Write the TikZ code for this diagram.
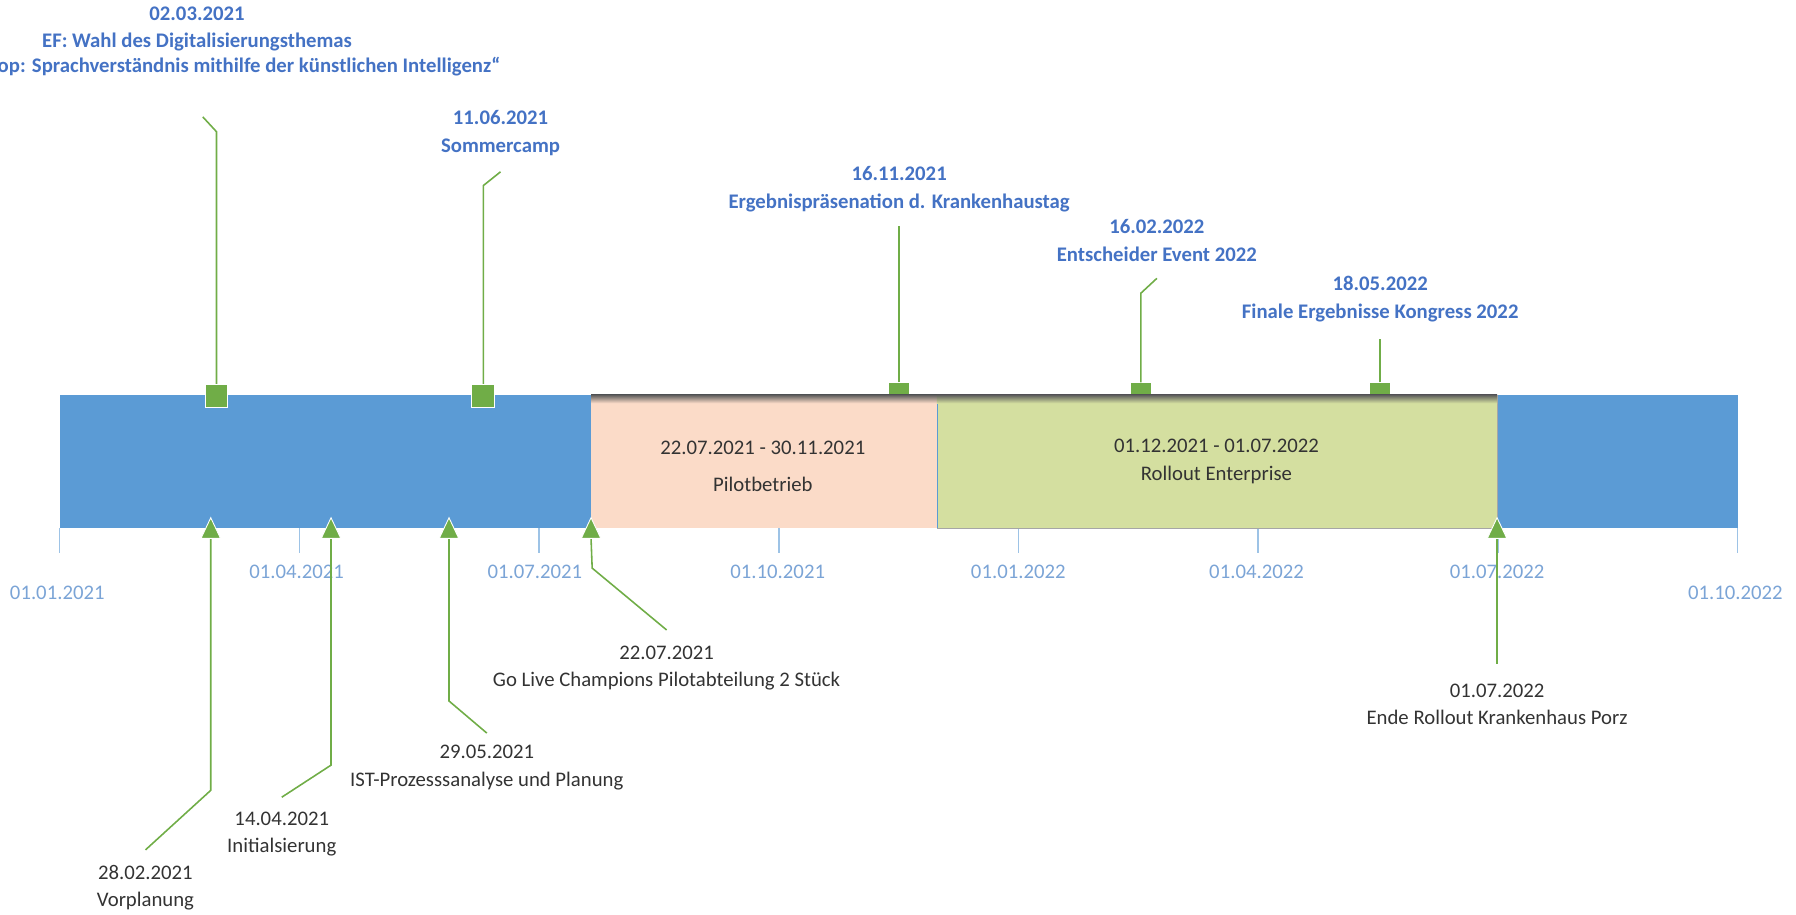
\documentclass[tikz,border=0pt]{standalone}
\usepackage{fontspec}
\setmainfont{Carlito}
\definecolor{barblue}{HTML}{5B9BD5}
\definecolor{mgreen}{HTML}{70AD47}
\definecolor{pinkc}{HTML}{FBDBC8}
\definecolor{lgreenc}{HTML}{D4DFA0}
\definecolor{labblue}{HTML}{4472C4}
\definecolor{axisblue}{HTML}{7BA4D6}
\definecolor{tickblue}{HTML}{9DC3E6}
\begin{document}
\begin{tikzpicture}[x=0.022908cm,y=-0.022908cm,
  tickln/.style={draw=tickblue,line width=0.9pt},
  axlab/.style={text=axisblue,font=\fontsize{11.8}{14}\selectfont,inner sep=0pt},
  toplab/.style={text=labblue,font=\bfseries\fontsize{11.8}{15.6}\selectfont,align=center,inner sep=0pt},
  botlab/.style={text=black!80,font=\fontsize{11.8}{15.6}\selectfont,align=center,inner sep=0pt},
  boxlab/.style={text=black!80,font=\fontsize{11.8}{14}\selectfont,inner sep=0pt},
  conn/.style={draw=mgreen,line width=0.9pt},
  sqm/.style={rectangle,fill=mgreen,draw=white,line width=0.6pt,minimum size=0.458cm,inner sep=0pt},
  sqs/.style={rectangle,fill=mgreen,minimum width=0.41cm,minimum height=0.41cm,inner sep=0pt},
  trim/.style={fill=mgreen,draw=white,line width=0.5pt}]
\useasboundingbox (0,0) rectangle (1568,798);
\clip (0,0) rectangle (1568,798);

% bar
\fill[barblue] (52,345) rectangle (1517,461);

% ticks
\foreach \k/\xx in {0/52,1/261.3,2/470.6,3/679.9,4/889.2,5/1098.5,6/1307.8,7/1517} {
  \draw[tickln] (\xx,461) -- (\xx,483);
}
\node[axlab] (a0) at (50,518) {01.01.2021};
\node[axlab] (a1) at (259,499) {01.04.2021};
\node[axlab] (a2) at (467,499) {01.07.2021};
\node[axlab] (a3) at (679,499) {01.10.2021};
\node[axlab] (a4) at (889,499) {01.01.2022};
\node[axlab] (a5) at (1097,499) {01.04.2022};
\node[axlab] (a6) at (1307,499) {01.07.2022};
\node[axlab] (a7) at (1515,518) {01.10.2022};

% top milestones under boxes
\node[sqs] (s3) at (785,343) {};
\node[sqs] (s4) at (996,343) {};
\node[sqs] (s5) at (1205,343) {};

% boxes
\fill[pinkc] (516,345) rectangle (818,461);
\fill[lgreenc] (818,345) rectangle (1307,461);
\draw[gray!70,line width=0.5pt] (818,345) rectangle (1307,461);
\draw[barblue,line width=0.6pt] (818.5,347) -- (818.5,461);
\shade[top color=black!65,bottom color=pinkc] (516,344.5) rectangle (818,352);
\shade[top color=black!65,bottom color=lgreenc] (818,344.5) rectangle (1307,352);
\node[boxlab] (p1) at (666,391) {22.07.2021 - 30.11.2021};
\node[boxlab] (p2) at (666,423) {Pilotbetrieb};
\node[boxlab,align=center,font=\fontsize{11.8}{15.6}\selectfont] (g1) at (1062,403) {01.12.2021 - 01.07.2022\\Rollout Enterprise};

% top milestone 1
\coordinate (t1b) at (189,115);
\coordinate (t1e) at (177,102);
\draw[conn] (189,340) -- (t1b) -- (t1e);
\node[sqm] (s1) at (189,346) {};
\node[toplab] (l1) at (172,25.5) {02.03.2021\\EF: Wahl des Digitalisierungsthemas};
\node[toplab,anchor=east] (l1c) at (437,58) {op: Sprachverständnis mithilfe der künstlichen Intelligenz“};

% top milestone 2
\coordinate (t2b) at (422,162);
\coordinate (t2e) at (437,150);
\draw[conn] (422,340) -- (t2b) -- (t2e);
\node[sqm] (s2) at (422,346) {};
\node[toplab] (l2) at (437,116) {11.06.2021\\Sommercamp};

% top milestone 3
\coordinate (t3e) at (785,197);
\draw[conn] (s3.north) -- (t3e);
\node[toplab] (l3) at (785,165) {16.11.2021\\Ergebnispräsenation d. Krankenhaustag};

% top milestone 4
\coordinate (t4b) at (996,256);
\coordinate (t4e) at (1010,243);
\draw[conn] (s4.north) -- (t4b) -- (t4e);
\node[toplab] (l4) at (1010,210) {16.02.2022\\Entscheider Event 2022};

% top milestone 5
\coordinate (t5e) at (1205,296);
\draw[conn] (s5.north) -- (t5e);
\node[toplab] (l5) at (1205,261) {18.05.2022\\Finale Ergebnisse Kongress 2022};

% bottom milestones
\foreach \n/\xx in {1/184,2/289,3/392,4/516,5/1307} {
  \coordinate (m\n) at (\xx,470);
}
\coordinate (b1b) at (184,690);
\coordinate (b1e) at (127,742);
\draw[conn] (m1) -- (b1b) -- (b1e);
\node[botlab] (k1) at (127,775) {28.02.2021\\Vorplanung};

\coordinate (b2b) at (289,668);
\coordinate (b2e) at (246,696);
\draw[conn] (m2) -- (b2b) -- (b2e);
\node[botlab] (k2) at (246,728) {14.04.2021\\Initialsierung};

\coordinate (b3b) at (392,612);
\coordinate (b3e) at (425,640);
\draw[conn] (m3) -- (b3b) -- (b3e);
\node[botlab] (k3) at (425,670) {29.05.2021\\IST-Prozesssanalyse und Planung};

\coordinate (b4b) at (517,496);
\coordinate (b4e) at (582,550);
\draw[conn] (m4) -- (b4b) -- (b4e);
\node[botlab] (k4) at (582,583) {22.07.2021\\Go Live Champions Pilotabteilung 2 Stück};

\coordinate (b5e) at (1307,580);
\draw[conn] (m5) -- (b5e);
\node[botlab] (k5) at (1307,615) {01.07.2022\\Ende Rollout Krankenhaus Porz};

\foreach \n/\xx in {1/184,2/289,3/392,4/516,5/1307} {
  \filldraw[trim] (\xx-8.5,470) -- (\xx,452) -- (\xx+8.5,470) -- cycle;
}
\end{tikzpicture}
\end{document}
